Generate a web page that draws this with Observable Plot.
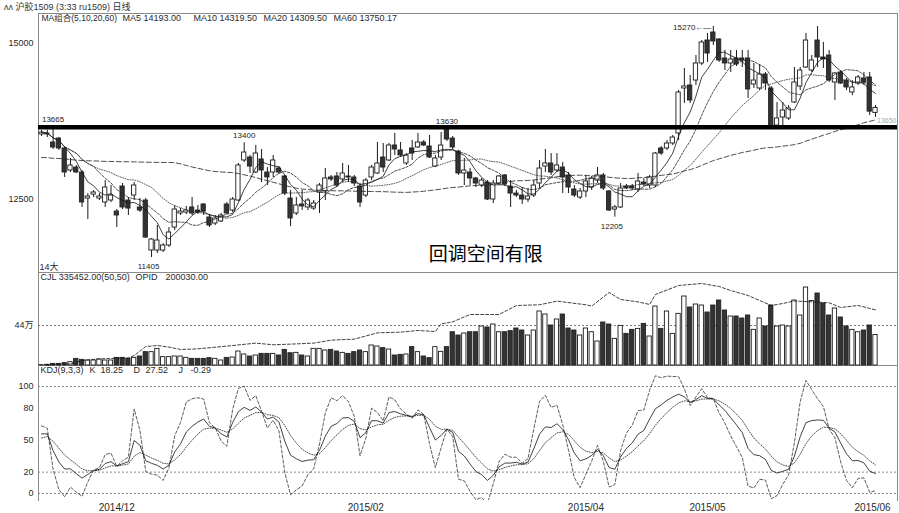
<!DOCTYPE html>
<html><head><meta charset="utf-8">
<script src="https://cdn.jsdelivr.net/npm/d3@7"></script>
<script src="https://cdn.jsdelivr.net/npm/@observablehq/plot@0.6"></script>
<style>
body{margin:0;background:#fff;}
#wrap{position:relative;width:899px;height:513px;overflow:hidden;background:#fff;font-family:'Liberation Sans',Arial,'Noto Sans CJK SC',sans-serif;}
#title{position:absolute;left:4px;top:0px;font-size:9px;color:#333;white-space:pre;}
</style></head><body><div id="wrap"><div id="title">ʌʌ 沪胶1509 (3:33 ru1509) 日线</div></div>
<script>
// ---------- data ----------
const opens = [13533,13533,13404,13468,13308,12954,13002,12922,12504,12568,12504,12440,12472,12295,12697,12472,12552,12360,12472,11668,11668,11668,11749,12038,12263,12279,12360,12311,12408,12199,12102,12135,12408,12311,12472,13115,13163,12922,13131,12922,12922,12986,12858,12504,12263,12408,12360,12343,12601,12617,12842,12858,12810,12858,12842,12697,12552,12842,12906,13163,13115,13356,13276,13067,13308,13324,13404,13340,13018,13163,13613,13468,13259,12906,12922,12826,12713,12761,12488,12745,12874,12697,12584,12552,12488,12552,12745,13018,13067,12954,13002,12874,12649,12520,12617,12681,12793,12874,12617,12327,12360,12697,12697,12649,12761,12713,12713,13308,13308,13388,13549,14272,14320,14400,14674,15043,15172,15059,14754,14674,14754,14754,14754,14336,14272,14497,14272,13677,13806,13790,14047,14304,14609,14561,15043,14770,14802,14368,14529,14400,14208,14352,14433,14449,13880];
const highs = [13597,13600,13665,13484,13324,13147,13035,12954,12584,12633,12584,12793,12713,12327,12745,12520,12761,12504,12504,11861,12070,11781,12038,12392,12343,12376,12520,12392,12420,12247,12231,12263,12440,12520,13067,13400,13195,13356,13292,13002,13195,13018,12874,12633,12520,12633,12504,12472,12745,12986,12874,12922,13067,13035,12874,12745,12826,13035,13404,13388,13388,13549,13404,13227,13436,13549,13436,13517,13195,13565,13630,13500,13276,13147,12986,12842,12826,12793,12793,12874,12890,12793,12633,12681,12665,12793,13115,13292,13227,13227,13083,12922,12713,12665,12874,12858,13002,12906,12633,12392,12745,12729,12729,12906,12826,12874,13243,13340,13436,13517,14240,14593,14481,14802,15043,15156,15270,15075,14883,14883,14883,14883,14883,14674,14658,14529,14304,14047,14047,13999,14609,14609,15156,14802,15268,15011,14883,14530,14561,14433,14400,14481,14529,14529,13999];
const lows = [13500,13484,13292,13276,12842,12922,12906,12360,12167,12520,12472,12360,12440,12038,12327,12231,12472,12279,11861,11556,11620,11636,11717,11990,12231,12247,12231,12247,12231,12038,12070,12118,12247,12279,12460,13083,12906,12906,12761,12713,12842,12890,12552,12054,12231,12311,12311,12311,12263,12472,12777,12681,12761,12761,12697,12360,12520,12793,12890,12922,13100,13195,13163,13035,13115,13308,13340,13147,13002,13115,13420,13276,12874,12713,12713,12681,12681,12472,12424,12713,12697,12360,12520,12408,12440,12520,12665,12922,12874,12922,12584,12584,12520,12488,12520,12633,12745,12633,12295,12205,12343,12649,12633,12601,12697,12665,12681,13195,13276,13356,13436,14031,14031,14320,14641,14690,14963,14690,14561,14529,14625,14609,14111,14272,14240,14240,13613,13629,13629,13758,14031,14240,14593,14529,14609,14593,14368,14079,14336,14240,14159,14320,14320,13838,13806];
const closes = [13565,13549,13324,13308,12922,13035,12922,12440,12536,12601,12536,12681,12552,12231,12360,12343,12713,12311,11877,11845,11829,11749,11958,12327,12295,12311,12263,12279,12295,12070,12183,12231,12263,12488,13035,13243,13018,13227,12954,12842,13115,12922,12584,12183,12392,12376,12472,12424,12713,12826,12810,12713,12906,12842,12745,12440,12793,13002,13067,13002,13356,13292,13195,13195,13227,13404,13356,13163,13147,13356,13452,13324,12906,12954,12826,12745,12793,12488,12745,12858,12729,12584,12552,12488,12536,12713,12986,13067,12922,13035,12842,12681,12552,12617,12777,12826,12874,12665,12311,12360,12665,12665,12665,12777,12729,12842,13227,13227,13388,13484,14208,14304,14079,14674,15011,14834,15027,14722,14674,14738,14658,14722,14256,14400,14497,14352,13629,13790,13918,13950,14368,14561,15043,14722,14770,14738,14400,14513,14352,14288,14288,14449,14368,13900,13960];
// volume, in thousands of lots
const volumeThousands = [4,8,18,18,26,37,73,62,55,55,66,55,55,84,84,73,84,99,147,147,183,92,92,99,99,84,73,73,73,81,73,55,84,88,154,121,99,110,128,128,128,110,172,135,139,110,99,183,183,165,172,154,139,128,147,165,147,220,209,191,176,110,117,121,202,147,99,81,202,150,202,366,330,352,366,366,429,418,451,366,366,378,407,385,330,385,594,561,440,506,561,407,385,330,407,366,264,473,451,293,436,348,392,403,458,319,649,403,594,348,568,759,638,671,660,583,660,715,605,539,539,517,550,392,517,429,660,429,440,429,715,550,858,710,792,682,550,627,528,429,392,366,385,440,335];
// open-interest line, read at these bar indices (thousands)
const opiIdx = [1,5,7,10,15,16,18,20,22,24,27,32,37,40,43,47,50,54,58,62,65,68,69,71,74,79,82,86,89,94,95,98,100,103,105,106,110,114,117,119,122,126,128,130,133,136,138,141,144];
const opiThousands = [5,18,55,73,84,110,209,220,202,176,183,213,246,228,235,246,279,290,359,367,385,374,458,480,561,561,660,668,708,668,653,803,726,700,671,781,880,902,869,825,770,660,682,710,700,690,638,660,612];
// MA60 for the first bars (its window reaches before the chart)
const ma60Head = [13163,13160,13150,13147,13140,13130,13120,13115,13110,13108,13105,13100,13099,13097,13095,13095,13093,13090,13088,13086,13085,13083,13083,13080,13060,13035,13010,12990,12970,12950,12938,12930,12925,12920,12905,12885,12865,12840,12815,12790,12765,12740,12715,12690,12670,12655,12648,12640,12636,12632,12630,12628,12627,12625,12622,12620,12618,12616,12615];
const supportLevel = 13650;
const priceTicks = [12500, 15000];
const volRef = 440000;
const kdjTicks = [0, 20, 50, 80, 100];
const kdjGrid = [0, 20, 100];
const dateTickIdx = [13, 56, 94, 115, 143.5];
const dateTickLabels = ["2014/12", "2015/02", "2015/04", "2015/05", "2015/06"];
const extremeIdx = [2, 35, 19, 70, 99, 116];
const extremeKind = ["high", "high", "low", "high", "low", "peak"];
const extremeText = ["13665", "13400", "11405", "13630", "12205", "15270"];
const maHeader = ["MA组合(5,10,20,60)", "MA5 14193.00", "MA10 14319.50", "MA20 14309.50", "MA60 13750.17"];
const volHeader = ["CJL 335452.00(50,50)", "OPID", "200030.00"];
const kdjHeader = ["KDJ(9,3,3)", "K", "18.25", "D", "27.52", "J", "-0.29"];
const noteText = "回调空间有限";
const noteAt = {i: 76.7, price: 11590};
const cornerText = "14大";

// ---------- derived tables ----------
const N = closes.length;
const candles = d3.range(N).map(i => ({i, o: opens[i], h: highs[i], l: lows[i], c: closes[i], v: volumeThousands[i] * 1000, up: closes[i] >= opens[i]}));
const ups = candles.filter(d => d.up), downs = candles.filter(d => !d.up);
const sma = (arr, n) => arr.map((_, i) => d3.mean(arr.slice(Math.max(0, i - n + 1), i + 1)));
const ma5 = sma(closes, 5), ma10 = sma(closes, 10), ma20 = sma(closes, 20);
const ma60 = closes.map((_, i) => i < ma60Head.length ? ma60Head[i] : d3.mean(closes.slice(i - 59, i + 1)));
const maRows = (arr) => arr.map((v, i) => ({i, v}));
let K = 50, D = 50; const kdj = [];
for (let i = 0; i < N; i++) {
  const lo = d3.min(lows.slice(Math.max(0, i - 8), i + 1)), hi = d3.max(highs.slice(Math.max(0, i - 8), i + 1));
  const rsv = hi === lo ? 50 : (closes[i] - lo) / (hi - lo) * 100;
  K = (2 * K + rsv) / 3; D = (2 * D + K) / 3;
  kdj.push({i, K, D, J: 3 * K - 2 * D});
}
const opiRows = opiIdx.map((i, k) => ({i, v: opiThousands[k] * 1000}));
const extremes = extremeIdx.map((i, k) => ({i, kind: extremeKind[k], t: extremeText[k], p: extremeKind[k] === "low" ? lows[i] : highs[i]}));

// ---------- layout ----------
const F = "'Liberation Sans', Arial, 'Noto Sans CJK SC', sans-serif";
const W = 899, ML = 38, MR = 2;
const xOpt = {domain: [-0.52, 147.8], axis: null};
const HW = 0.37;
const style = {fontFamily: F, fontSize: "9px", color: "#2a2a2a", background: "transparent", overflow: "visible"};
const wrap = document.getElementById("wrap");
function place(svg, top) { svg.style.position = "absolute"; svg.style.left = "0px"; svg.style.top = top + "px"; wrap.appendChild(svg); }
const hdr = (labels, dxs, sizes) => labels.map((t, k) => Plot.text([t], {frameAnchor: "top-left", dx: dxs[k], dy: 1, fill: "#2a2a2a", fontSize: sizes ? sizes[k] : 9}));
const intFmt = d3.format("d");

const mainPlot = Plot.plot({
  width: W, height: 260, marginTop: 1, marginBottom: 0, marginLeft: ML, marginRight: MR,
  x: xOpt, y: {domain: [11315, 15477], axis: null}, style,
  marks: [
    Plot.frame({stroke: "#8a8a8a"}),
    Plot.axisY({ticks: priceTicks, tickFormat: intFmt, tickSize: 0, tickPadding: 5, fontSize: 9, fill: "#2a2a2a", label: null}),
    Plot.ruleX(candles, {x: "i", y1: "l", y2: "h", stroke: "#1a1a1a", strokeWidth: 1}),
    Plot.rect(ups, {x1: d => d.i - HW, x2: d => d.i + HW, y1: "o", y2: "c", fill: "#fff", stroke: "#1a1a1a", strokeWidth: 0.9}),
    Plot.rect(downs, {x1: d => d.i - HW, x2: d => d.i + HW, y1: "o", y2: "c", fill: "#333", stroke: "#222", strokeWidth: 0.9}),
    Plot.line(maRows(ma5), {x: "i", y: "v", stroke: "#111", strokeWidth: 0.8, clip: true}),
    Plot.line(maRows(ma10), {x: "i", y: "v", stroke: "#222", strokeWidth: 0.8, strokeDasharray: "2.5,1.5", clip: true}),
    Plot.line(maRows(ma20), {x: "i", y: "v", stroke: "#333", strokeWidth: 0.8, strokeDasharray: "1,1.5", clip: true}),
    Plot.line(maRows(ma60), {x: "i", y: "v", stroke: "#222", strokeWidth: 0.8, strokeDasharray: "5,2.5", clip: true}),
    Plot.ruleY([supportLevel], {stroke: "#000", strokeWidth: 4.5}),
    Plot.text(extremes.filter(d => d.kind === "high"), {x: "i", y: "p", text: "t", dy: -7, fontSize: 8, fill: "#222"}),
    Plot.text(extremes.filter(d => d.kind === "low"), {x: "i", y: "p", text: "t", dy: 9, dx: -3, fontSize: 8, fill: "#222"}),
    Plot.text(extremes.filter(d => d.kind === "peak"), {x: "i", y: "p", text: d => d.t + "←—", textAnchor: "end", dx: -2, dy: 1, fontSize: 8, fill: "#222"}),
    ...hdr(maHeader, [3, 84, 155, 225, 295], [8.5, 9, 9, 9, 9]),
    Plot.text([noteText], {x: () => noteAt.i, y: () => noteAt.price, fontSize: 19, fill: "#000", fontFamily: "'Noto Sans CJK SC', sans-serif"}),
    Plot.text([cornerText], {frameAnchor: "bottom-left", dx: 1, dy: -3, fontSize: 9, fill: "#2a2a2a"}),
    Plot.text([String(supportLevel)], {frameAnchor: "right", dx: -1, fontSize: 7, fill: "#aaa", y: () => supportLevel + 110, textAnchor: "end"})
  ]
});
place(mainPlot, 12);

const volPlot = Plot.plot({
  width: W, height: 93, marginTop: 0, marginBottom: 0, marginLeft: ML, marginRight: MR,
  x: xOpt, y: {domain: [0, 1023000], axis: null}, style,
  marks: [
    Plot.frame({stroke: "#8a8a8a"}),
    Plot.ruleY([volRef], {stroke: "#777", strokeDasharray: "2,2"}),
    Plot.axisY({ticks: [volRef], tickFormat: () => "44万", tickSize: 0, tickPadding: 5, fontSize: 9, fill: "#2a2a2a", label: null}),
    Plot.rect(ups, {x1: d => d.i - HW, x2: d => d.i + HW, y1: 0, y2: "v", fill: "#fff", stroke: "#1a1a1a", strokeWidth: 0.9}),
    Plot.rect(downs, {x1: d => d.i - HW, x2: d => d.i + HW, y1: 0, y2: "v", fill: "#333", stroke: "#222", strokeWidth: 0.9}),
    Plot.line(opiRows, {x: "i", y: "v", stroke: "#111", strokeWidth: 0.8, strokeDasharray: "3,2"}),
    ...hdr(volHeader, [2, 97, 127])
  ]
});
place(volPlot, 272);

const dateMap = new Map(dateTickIdx.map((d, k) => [d, dateTickLabels[k]]));
const kdjPlot = Plot.plot({
  width: W, height: 148, marginTop: 0, marginBottom: 13, marginLeft: ML, marginRight: MR,
  x: xOpt, y: {domain: [-6.5, 119.6], axis: null}, style,
  marks: [
    Plot.frame({anchor: "left", stroke: "#8a8a8a"}),
    Plot.frame({anchor: "right", stroke: "#8a8a8a"}),
    Plot.ruleY(kdjGrid, {stroke: "#888", strokeDasharray: "2,2"}),
    Plot.axisY({ticks: kdjTicks, tickSize: 0, tickPadding: 5, fontSize: 9, fill: "#2a2a2a", label: null}),
    Plot.axisX({ticks: dateTickIdx, tickFormat: d => dateMap.get(d), tickSize: 0, tickPadding: 3, fontSize: 10, fill: "#2a2a2a", label: null}),
    Plot.line(kdj, {x: "i", y: "J", stroke: "#333", strokeWidth: 0.8, strokeDasharray: "3,2", clip: true}),
    Plot.line(kdj, {x: "i", y: "D", stroke: "#222", strokeWidth: 0.8, strokeDasharray: "1,1.5", clip: true}),
    Plot.line(kdj, {x: "i", y: "K", stroke: "#111", strokeWidth: 0.8, clip: true}),
    ...hdr(kdjHeader, [2, 51, 62, 95, 107, 140, 152])
  ]
});
place(kdjPlot, 365);
</script></body></html>
